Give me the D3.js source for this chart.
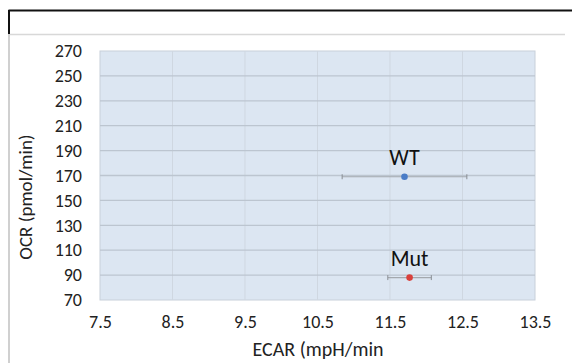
<!DOCTYPE html>
<html><head><meta charset="utf-8">
<script src="https://cdn.jsdelivr.net/npm/d3@7"></script>
<style>body{margin:0;background:#fff;}svg{display:block;}</style>
</head><body>
<svg id="c" width="572" height="363"></svg>
<script>
const groups = ["WT", "Mut"];
const ecar = [11.7, 11.77];
const ecarErr = [0.86, 0.3];
const ocr = [169, 88];
const colors = ["#4a7cc7", "#d9403c"];
const xTicks = [7.5, 8.5, 9.5, 10.5, 11.5, 12.5, 13.5];
const yTicks = [70, 90, 110, 130, 150, 170, 190, 210, 230, 250, 270];
const xTitle = "ECAR (mpH/min";
const yTitle = "OCR (pmol/min)";

const svg = d3.select("#c");
const font = "Carlito, 'Open Sans', 'Liberation Sans', sans-serif";
const L = 100, R = 535, T = 51, B = 300;
const x = d3.scaleLinear().domain([7.5, 13.5]).range([L, R]);
const y = d3.scaleLinear().domain([70, 270]).range([B, T]);

// outer frame
svg.append("line").attr("x1", 8.5).attr("x2", 572).attr("y1", 10.5).attr("y2", 10.5).attr("stroke", "#111").attr("stroke-width", 2);
svg.append("line").attr("x1", 9).attr("x2", 9).attr("y1", 10).attr("y2", 34).attr("stroke", "#111").attr("stroke-width", 2);
svg.append("line").attr("x1", 9).attr("x2", 9).attr("y1", 34).attr("y2", 363).attr("stroke", "#d0d0d0").attr("stroke-width", 2);
svg.append("line").attr("x1", 10).attr("x2", 565).attr("y1", 34.5).attr("y2", 34.5).attr("stroke", "#d8d8d8").attr("stroke-width", 1.5);

// plot area
svg.append("rect").attr("x", L).attr("y", T).attr("width", R - L).attr("height", B - T)
  .attr("fill", "#dce6f2").attr("stroke", "#c8d0da").attr("stroke-width", 1);

// vertical grid
svg.append("g").selectAll("line").data(xTicks.slice(1, -1)).join("line")
  .attr("x1", d => x(d)).attr("x2", d => x(d)).attr("y1", T).attr("y2", B)
  .attr("stroke", "#cfd7e1").attr("stroke-width", 1);
// horizontal grid
svg.append("g").selectAll("line").data(yTicks.slice(1, -1)).join("line")
  .attr("x1", L).attr("x2", R).attr("y1", d => y(d)).attr("y2", d => y(d))
  .attr("stroke", "#bcc5d0").attr("stroke-width", 1.3);

// axes
const xAxis = svg.append("g").attr("transform", `translate(0,${B})`)
  .call(d3.axisBottom(x).tickValues(xTicks).tickFormat(d3.format(".1f")).tickSize(0).tickPadding(15));
const yAxis = svg.append("g").attr("transform", `translate(${L},0)`)
  .call(d3.axisLeft(y).tickValues(yTicks).tickSize(0).tickPadding(18));
[xAxis, yAxis].forEach(a => {
  a.select(".domain").remove();
  a.selectAll("text").attr("font-family", font).attr("font-size", 18).attr("fill", "#222");
});

// error bars
const eb = svg.append("g").selectAll("g").data(groups).join("g");
eb.append("line").attr("x1", (d, i) => x(ecar[i] - ecarErr[i])).attr("x2", (d, i) => x(ecar[i] + ecarErr[i]))
  .attr("y1", (d, i) => y(ocr[i])).attr("y2", (d, i) => y(ocr[i])).attr("stroke", "#a3a8ae").attr("stroke-width", 1.2);
[-1, 1].forEach(s => {
  eb.append("line").attr("x1", (d, i) => x(ecar[i] + s * ecarErr[i])).attr("x2", (d, i) => x(ecar[i] + s * ecarErr[i]))
    .attr("y1", (d, i) => y(ocr[i]) - 2.5).attr("y2", (d, i) => y(ocr[i]) + 2.5).attr("stroke", "#888d93").attr("stroke-width", 1);
});
// points
svg.append("g").selectAll("circle").data(groups).join("circle")
  .attr("cx", (d, i) => x(ecar[i])).attr("cy", (d, i) => y(ocr[i])).attr("r", 3.3)
  .attr("fill", (d, i) => colors[i]);
// labels
svg.append("g").selectAll("text").data(groups).join("text")
  .attr("x", (d, i) => x(ecar[i])).attr("y", (d, i) => y(ocr[i]) - 12)
  .attr("text-anchor", "middle").attr("font-family", font).attr("font-size", 22).attr("fill", "#111")
  .text(d => d);

// axis titles
svg.append("text").attr("x", 318).attr("y", 356).attr("text-anchor", "middle")
  .attr("font-family", font).attr("font-size", 20).attr("fill", "#222").text(xTitle);
svg.append("text").attr("transform", `translate(32,197) rotate(-90)`).attr("text-anchor", "middle")
  .attr("font-family", font).attr("font-size", 19).attr("fill", "#222").text(yTitle);
</script>
</body></html>
